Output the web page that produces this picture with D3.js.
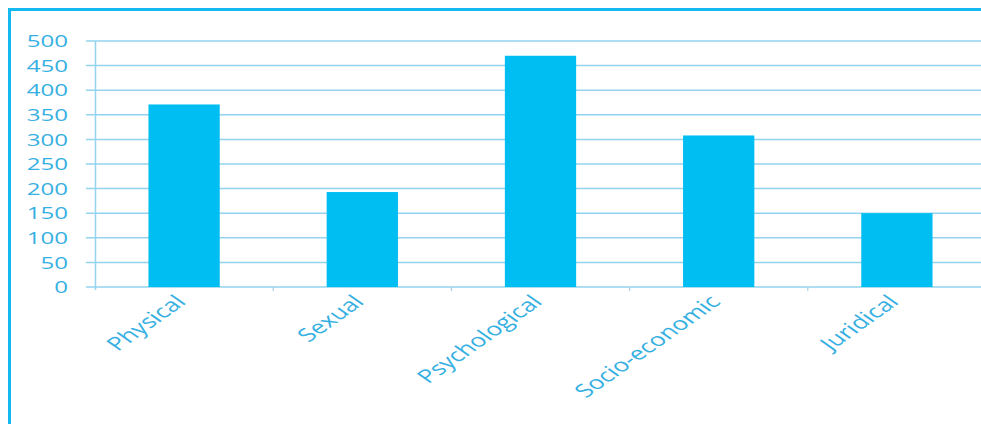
<!DOCTYPE html>
<html><head><meta charset="utf-8">
<script src="https://cdn.jsdelivr.net/npm/d3@7"></script>
<style>
html,body{margin:0;padding:0;background:#fff;}
svg{display:block;}
text{font-family:"Open Sans",sans-serif;}
</style></head>
<body>
<script>
const categories = ["Physical","Sexual","Psychological","Socio-economic","Juridical"];
const values = [371, 193, 470, 308, 150];
const yTicks = [0,50,100,150,200,250,300,350,400,450,500];

const W = 981, H = 424;
const svg = d3.select("body").append("svg").attr("width", W).attr("height", H);

// frame
svg.append("path").attr("d", `M9.5,${H+5} V9.5 H${W+5}`)
  .attr("fill","none").attr("stroke","#14b9f0").attr("stroke-width",3);

const x = d3.scaleBand().domain(categories).range([95, 986]).padding(0);
const y = d3.scaleLinear().domain([0,500]).range([287, 41]);
const textCol = "#36b0e2", gridCol = "#93d3ee";
const stretch = 1.42;

// gridlines
svg.append("g").selectAll("line").data(yTicks).join("line")
  .attr("x1", 86).attr("x2", W).attr("y1", d=>y(d)).attr("y2", d=>y(d))
  .attr("stroke", gridCol).attr("stroke-width", 1.5);

// y axis line
svg.append("line").attr("x1",95.5).attr("x2",95.5).attr("y1",y(500)).attr("y2",y(0)+3)
  .attr("stroke", gridCol).attr("stroke-width",1.5);

// x tick marks
svg.append("g").selectAll("line").data(categories.slice(1)).join("line")
  .attr("x1", d=>x(d)).attr("x2", d=>x(d)).attr("y1", y(0)).attr("y2", y(0)+4)
  .attr("stroke", "#a9cfe0").attr("stroke-width",1.2);

// y labels
svg.append("g").selectAll("text").data(yTicks).join("text")
  .attr("transform", d=>`translate(68,${y(d)}) scale(${stretch},1)`)
  .attr("dy","0.36em").attr("text-anchor","end")
  .attr("fill", textCol).attr("font-size", 17)
  .text(d=>d);

// bars
const bw = x.bandwidth()*0.4;
svg.append("g").selectAll("rect").data(categories).join("rect")
  .attr("x", d=>x(d)+x.bandwidth()/2-bw/2).attr("width", bw)
  .attr("y", (d,i)=>y(values[i])).attr("height", (d,i)=>y(0)-y(values[i]))
  .attr("fill", "#00bdf2");

// x labels
svg.append("g").selectAll("text").data(categories).join("text")
  .attr("transform", d=>`translate(${x(d)+x.bandwidth()/2+3},${303}) scale(${stretch},1) rotate(-45)`)
  .attr("text-anchor","end").attr("fill", textCol).attr("font-size", 18.5)
  .text(d=>d);
</script>
</body></html>
